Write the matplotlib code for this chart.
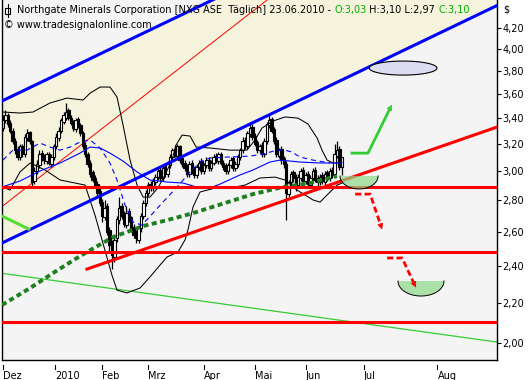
import numpy as np
import matplotlib
matplotlib.use("Agg")
import matplotlib.pyplot as plt
from matplotlib.ticker import FixedLocator, NullLocator
from matplotlib.transforms import Affine2D
from matplotlib.lines import Line2D
from matplotlib.patches import Rectangle

# Tageskerzen NXG, Index 0 = 01.12.2009 ... 140 = 23.06.2010
opens = [3.32, 3.38, 3.42, 3.36, 3.30, 3.22, 3.16, 3.10, 3.18, 3.12,
         3.24, 3.29, 3.22, 2.93, 3.00, 3.04, 3.13, 3.10, 3.07, 3.12,
         3.05, 3.10, 3.18, 3.24, 3.30, 3.37, 3.40, 3.46, 3.40, 3.36,
         3.31, 3.39, 3.34, 3.28, 3.19, 3.12, 3.06, 2.99, 2.95, 2.91,
         2.86, 2.79, 2.69, 2.76, 2.61, 2.53, 2.45, 2.56, 2.67, 2.76,
         2.71, 2.64, 2.73, 2.69, 2.63, 2.59, 2.55, 2.62, 2.70, 2.78,
         2.85, 2.91, 2.88, 2.92, 2.96, 3.01, 2.95, 3.03, 2.98, 3.04,
         3.10, 3.16, 3.11, 3.18, 3.09, 3.06, 3.03, 2.98, 3.06, 3.01,
         2.97, 3.03, 3.07, 3.00, 3.04, 3.08, 3.02, 3.06, 3.11, 3.07,
         3.12, 3.06, 3.04, 3.00, 3.04, 3.09, 3.02, 3.05, 3.10, 3.15,
         3.23, 3.18, 3.27, 3.33, 3.26, 3.21, 3.15, 3.19, 3.12, 3.22,
         3.34, 3.39, 3.31, 3.23, 3.11, 3.16, 3.09, 3.05, 2.84, 2.92,
         2.99, 2.96, 2.90, 2.95, 3.01, 2.93, 2.98, 2.90, 2.95, 3.01,
         2.95, 2.92, 2.97, 2.92, 2.99, 2.95, 3.01, 2.98, 3.11, 3.16,
         3.03]
highs = [3.42, 3.46, 3.44, 3.38, 3.32, 3.24, 3.18, 3.20, 3.20, 3.27,
         3.31, 3.30, 3.23, 3.03, 3.08, 3.15, 3.15, 3.12, 3.14, 3.14,
         3.12, 3.20, 3.28, 3.33, 3.40, 3.45, 3.52, 3.48, 3.42, 3.38,
         3.40, 3.41, 3.36, 3.30, 3.21, 3.14, 3.08, 3.01, 2.97, 2.93,
         2.88, 2.81, 2.80, 2.78, 2.63, 2.55, 2.58, 2.70, 2.82, 2.78,
         2.73, 2.76, 2.75, 2.70, 2.65, 2.61, 2.64, 2.72, 2.80, 2.87,
         2.92, 2.93, 2.95, 2.98, 3.02, 3.03, 3.04, 3.05, 3.07, 3.12,
         3.17, 3.19, 3.20, 3.19, 3.11, 3.08, 3.05, 3.07, 3.08, 3.03,
         3.05, 3.08, 3.09, 3.06, 3.10, 3.10, 3.08, 3.12, 3.13, 3.14,
         3.14, 3.08, 3.06, 3.06, 3.10, 3.11, 3.07, 3.12, 3.17, 3.25,
         3.25, 3.30, 3.37, 3.35, 3.28, 3.23, 3.20, 3.21, 3.24, 3.37,
         3.42, 3.41, 3.33, 3.25, 3.17, 3.18, 3.11, 3.07, 2.94, 3.00,
         3.01, 2.98, 2.98, 3.02, 3.03, 2.99, 3.00, 2.97, 3.02, 3.03,
         2.97, 2.98, 2.99, 3.00, 3.01, 3.02, 3.03, 3.20, 3.22, 3.18,
         3.10]
lows = [3.30, 3.36, 3.33, 3.28, 3.20, 3.12, 3.08, 3.08, 3.10, 3.10,
        3.22, 3.20, 2.89, 2.91, 2.98, 3.02, 3.07, 3.05, 3.05, 3.04,
        3.03, 3.08, 3.16, 3.22, 3.28, 3.35, 3.38, 3.38, 3.34, 3.30,
        3.29, 3.32, 3.26, 3.16, 3.10, 3.03, 2.96, 2.92, 2.88, 2.83,
        2.76, 2.66, 2.67, 2.58, 2.48, 2.38, 2.42, 2.54, 2.65, 2.68,
        2.63, 2.62, 2.66, 2.60, 2.56, 2.53, 2.53, 2.60, 2.68, 2.76,
        2.83, 2.86, 2.86, 2.90, 2.94, 2.93, 2.93, 2.96, 2.96, 3.02,
        3.08, 3.10, 3.09, 3.06, 3.03, 3.00, 2.96, 2.96, 2.98, 2.95,
        2.95, 3.01, 2.98, 2.98, 3.02, 3.00, 3.00, 3.04, 3.06, 3.05,
        3.04, 3.01, 2.98, 2.98, 3.02, 3.00, 3.00, 3.03, 3.08, 3.13,
        3.16, 3.16, 3.25, 3.23, 3.18, 3.13, 3.13, 3.10, 3.10, 3.20,
        3.32, 3.28, 3.20, 3.10, 3.09, 3.05, 3.02, 2.67, 2.82, 2.90,
        2.92, 2.86, 2.88, 2.93, 2.90, 2.91, 2.88, 2.88, 2.93, 2.92,
        2.89, 2.90, 2.91, 2.90, 2.93, 2.93, 2.95, 2.96, 3.09, 3.01,
        2.97]
closes = [3.38, 3.42, 3.35, 3.30, 3.22, 3.15, 3.10, 3.18, 3.12, 3.25,
          3.28, 3.22, 2.92, 3.00, 3.05, 3.12, 3.10, 3.08, 3.12, 3.06,
          3.10, 3.18, 3.25, 3.30, 3.38, 3.42, 3.45, 3.40, 3.36, 3.32,
          3.38, 3.34, 3.28, 3.18, 3.12, 3.05, 2.98, 2.94, 2.90, 2.85,
          2.78, 2.70, 2.75, 2.60, 2.52, 2.46, 2.55, 2.68, 2.75, 2.70,
          2.65, 2.72, 2.68, 2.62, 2.58, 2.56, 2.62, 2.70, 2.78, 2.85,
          2.90, 2.88, 2.93, 2.96, 3.00, 2.95, 3.02, 2.98, 3.05, 3.10,
          3.15, 3.12, 3.18, 3.08, 3.05, 3.02, 2.98, 3.05, 3.00, 2.97,
          3.03, 3.06, 3.00, 3.04, 3.08, 3.02, 3.06, 3.10, 3.08, 3.12,
          3.06, 3.03, 3.00, 3.04, 3.08, 3.02, 3.05, 3.10, 3.15, 3.22,
          3.18, 3.28, 3.32, 3.25, 3.20, 3.15, 3.18, 3.12, 3.22, 3.35,
          3.38, 3.30, 3.22, 3.12, 3.15, 3.08, 3.05, 2.85, 2.92, 2.98,
          2.95, 2.90, 2.96, 3.00, 2.93, 2.97, 2.91, 2.95, 3.00, 2.94,
          2.92, 2.96, 2.93, 2.98, 2.95, 3.00, 2.97, 3.12, 3.15, 3.03,
          3.10]

# Bollinger-Baender (schwarz)
bbu_x = [0, 7, 12.4, 19.4, 26.4, 33.1, 36, 40.1, 44.2, 47.1, 49.6, 52.5, 55.4,
         57.9, 60.7, 64, 66.9, 69.8, 71.5, 74, 77.3, 79.8, 85.5, 93.8, 100.8,
         104.1, 107, 111.6, 116.5, 121.9, 126, 129.8, 131.8, 133.9, 136.4, 139.7]
bbu_y = [3.447, 3.439, 3.447, 3.521, 3.562, 3.546, 3.604, 3.656, 3.656, 3.571,
         3.343, 3.078, 2.902, 2.821, 2.821, 2.882, 2.972, 3.078, 3.189, 3.265,
         3.257, 3.174, 3.167, 3.151, 3.151, 3.227, 3.319, 3.375, 3.407, 3.398,
         3.351, 3.242, 3.151, 3.078, 3.057, 3.057]
bbl_x = [0, 2.9, 7, 11.2, 17.4, 23.6, 29.8, 33.9, 38, 42.1, 45, 47.1, 51.2,
         56.6, 60.7, 64.9, 67.8, 72.3, 75.2, 76.4, 78.5, 81.4, 87.6, 93.8, 100,
         106.2, 112.4, 116.5, 121.5, 128.1, 131, 133.9, 138, 140.1]
bbl_y = [2.889, 2.868, 2.993, 3.057, 3.007, 2.937, 2.916, 2.902, 2.704, 2.490,
         2.348, 2.266, 2.251, 2.277, 2.337, 2.404, 2.450, 2.479, 2.550, 2.610,
         2.756, 2.855, 2.882, 2.882, 2.902, 2.951, 2.957, 2.937, 2.868, 2.802,
         2.788, 2.835, 2.902, 2.916]

# gleitende Durchschnitte
ma_x = [-0.4, 7, 15.3, 23.6, 31.8, 36, 40.1, 44.2, 49.6, 55.4, 60.7, 67.8,
        74.4, 81.4, 85.5, 89.7, 97.9, 103.3, 110.3, 114.5, 122.7, 131, 140.1]
ma_y = [2.889, 2.930, 3.000, 3.057, 3.129, 3.174, 3.167, 3.129, 3.071, 2.993,
        2.937, 2.923, 2.916, 2.882, 2.882, 2.909, 2.972, 3.007, 3.064, 3.078,
        3.064, 3.057, 3.057]
ma2_x = [0, 4.1, 9.9, 15.3, 19.4, 23.6, 27.7, 31.8, 36, 40.1, 44.2, 47.1, 50.4,
         53.7, 57.4, 62, 66.1, 71.9, 77.3, 81.4, 85.5, 92.6, 102.1, 107.4,
         113.2, 116.5, 119.4, 122.7, 128.1, 135.1]
ma2_y = [3.078, 3.151, 3.151, 3.204, 3.174, 3.151, 3.174, 3.212, 3.227, 3.167,
         3.057, 2.937, 2.769, 2.660, 2.641, 2.717, 2.788, 2.889, 2.993, 3.064,
         3.093, 3.100, 3.107, 3.122, 3.151, 3.151, 3.137, 3.100, 3.078, 3.057]
ma200_x = [-0.4, 11.2, 20.7, 31.8, 45.5, 57.9, 67.8, 77.3, 91.7, 103.3, 115.7,
           126.9, 138]
ma200_y = [2.188, 2.277, 2.359, 2.455, 2.568, 2.635, 2.672, 2.711, 2.782,
           2.841, 2.889, 2.916, 2.964]

# Trendlinien (Index, Kurs)
chan_x = [-1.24, 204.1]
chan_upper = [3.53, 6.19]
chan_lower = [2.526, 4.43]
fan_x = [-1.24, 109.1]
fan_y = [2.749, 4.488]
support_x = [34.7, 204.1]
support_y = [2.381, 3.327]
levels = [2.89, 2.48, 2.10]
long_x = [-1.24, 204.1]
long_y = [2.359, 2.005]
short_x = [-1.24, 10.7]
short_y = [2.704, 2.616]

# Szenarien
up_x = [144.2, 150.8, 161.2]
up_y = [3.129, 3.129, 3.529]
dn1_x = [145.5, 151.7, 157.0]
dn1_y = [2.841, 2.841, 2.598]
dn2_x = [158.7, 164.9, 171.1]
dn2_y = [2.444, 2.444, 2.266]

month_pos = [0, 21.5, 41, 60, 83, 104, 125, 149, 179.5]
month_lab = ['Dez', '2010', 'Feb', 'Mrz', 'Apr', 'Mai', 'Jun', 'Jul', 'Aug']
price_ticks = [2.0, 2.2, 2.4, 2.6, 2.8, 3.0, 3.2, 3.4, 3.6, 3.8, 4.0, 4.2]

FS = 7.0
plt.rcParams['font.family'] = 'DejaVu Sans'

fig = plt.figure(figsize=(5.31, 3.80), dpi=100)
fig.patch.set_facecolor('white')
ax = fig.add_axes([2 / 531, 20 / 380, 495 / 531, 360 / 380])
ax.set_facecolor('#F4F4F4')
ax.set_yscale('log')
ax.set_ylim(1.922, 4.488)
ax.set_xlim(-0.41, 204.1)

# Kanal
ax.fill_between(chan_x, chan_lower, chan_upper, color='#F5F3DC', lw=0, zorder=0)
ax.plot(chan_x, chan_upper, color='#0000FF', lw=2.2, zorder=5)
ax.plot(chan_x, chan_lower, color='#0000FF', lw=2.2, zorder=5)
ax.plot(fan_x, fan_y, color='#FF0000', lw=0.7, zorder=1)
ax.plot(long_x, long_y, color='#33CC33', lw=0.9, zorder=1)
ax.plot(short_x, short_y, color='#55DD33', lw=2.2, zorder=5)

# Kerzen
o = np.array(opens)
h = np.array(highs)
l = np.array(lows)
c = np.array(closes)
x = np.arange(len(c))
ax.vlines(x, l, h, color='black', lw=0.9, zorder=2)
body_col = np.where(c >= o, 'white', 'black')
ax.bar(x, np.maximum(np.abs(c - o), 0.004), bottom=np.minimum(o, c), width=1.0,
       color=body_col, edgecolor='black', linewidth=0.8, zorder=2)

# Indikatoren
ax.plot(bbu_x, bbu_y, color='black', lw=0.75, zorder=3)
ax.plot(bbl_x, bbl_y, color='black', lw=0.75, zorder=3)
ax.plot(ma_x, ma_y, color='#0000FF', lw=0.8, zorder=3)
ax.plot(ma2_x, ma2_y, color='#0000FF', lw=0.8, ls=(0, (4.5, 3.5)), zorder=3)
ax.plot(ma200_x, ma200_y, color='#1E7F1E', lw=2.8, ls=(0, (1.3, 0.9)),
        dash_capstyle='butt', zorder=4)

# Unterstuetzungen
for lv in levels:
    ax.axhline(lv, color='#FF0000', lw=2.2, zorder=5)
ax.plot(support_x, support_y, color='#FF0000', lw=2.2, zorder=5)

# Zielzonen
t = np.linspace(0, 2 * np.pi, 120)
ax.fill(165.3 + 14.0 * np.cos(t), 3.823 * np.exp(0.0165 * np.sin(t)),
        facecolor='#DCDCF2', edgecolor='black', lw=0.8, zorder=6)
tb = np.linspace(np.pi, 2 * np.pi, 60)
for cx, cy, a, b in [(147.1, 2.965, 7.85, 0.0306), (172.7, 2.315, 9.5, 0.0353)]:
    bx = cx + a * np.cos(tb)
    by = cy * np.exp(b * np.sin(tb))
    ax.fill(bx, by, facecolor='#8ED88A', alpha=0.7, lw=0, zorder=6)
    ax.plot(bx, by, color='black', lw=0.7, zorder=6)


def arrow_path(xs, ys, col, ls):
    ax.plot(xs[:-1] + [xs[-2] + 0.85 * (xs[-1] - xs[-2])],
            ys[:-1] + [ys[-2] * (ys[-1] / ys[-2]) ** 0.85],
            color=col, lw=2, ls=ls, zorder=7, dash_capstyle='butt')
    ax.annotate('', xy=(xs[-1], ys[-1]),
                xytext=(xs[-2] + 0.7 * (xs[-1] - xs[-2]), ys[-2] * (ys[-1] / ys[-2]) ** 0.7),
                arrowprops=dict(arrowstyle='-|>', color=col, lw=0.5,
                                mutation_scale=9), zorder=7)


arrow_path(up_x, up_y, '#33CC33', '-')
arrow_path(dn1_x, dn1_y, '#FF0000', (0, (2.2, 1.2)))
arrow_path(dn2_x, dn2_y, '#FF0000', (0, (2.2, 1.2)))

# Achsen
for side in ['left', 'right', 'bottom']:
    ax.spines[side].set_color('black')
    ax.spines[side].set_linewidth(1)
ax.spines['top'].set_visible(False)
ax.yaxis.tick_right()
ax.yaxis.set_major_locator(FixedLocator(price_ticks))
ax.yaxis.set_minor_locator(NullLocator())
ax.set_yticklabels([f'{v:.2f}'.replace('.', ',') for v in price_ticks])
ax.tick_params(axis='y', which='major', direction='out', length=3, width=0.8,
               pad=1, labelsize=FS, colors='black')
ax.set_xticks(month_pos)
ax.set_xticklabels(month_lab)
ax.xaxis.set_minor_locator(NullLocator())
ax.tick_params(axis='x', length=0, pad=8, labelsize=FS)
for lbl in ax.get_xticklabels():
    lbl.set_ha('left')
for mp in month_pos:
    ax.plot([mp, mp], [-0.014, -0.025], color='black', lw=0.8,
            transform=ax.get_xaxis_transform(), clip_on=False)

fig.text(503 / 531, 1 - 10 / 380, '$', fontsize=FS, va='center', ha='left')

# Kopfzeile mit Kerzensymbol
fig.add_artist(Line2D([7.5 / 531, 7.5 / 531], [1 - 4 / 380, 1 - 17 / 380],
                      color='black', lw=0.8, transform=fig.transFigure))
fig.add_artist(Rectangle((5 / 531, 1 - 14 / 380), 5 / 531, 6 / 380,
                         facecolor='white', edgecolor='black', lw=0.8,
                         transform=fig.transFigure))
fig.canvas.draw()
r = fig.canvas.get_renderer()
segs = [('Northgate Minerals Corporation [NXG ASE  T\u00e4glich] 23.06.2010 - ', 'black'),
        ('O:3,03', '#00B000'), (' H:3,10 L:2,97 ', 'black'), ('C:3,10', '#00B000')]
tx = fig.text(17 / 531, 1 - 10 / 380, segs[0][0], color=segs[0][1], fontsize=FS,
              va='center', ha='left')
for s, col in segs[1:]:
    ex = tx.get_window_extent(renderer=r)
    tx = fig.text(17 / 531, 1 - 10 / 380, s, color=col, fontsize=FS, va='center', ha='left',
                  transform=tx.get_transform() + Affine2D().translate(ex.width, 0))
fig.text(4 / 531, 1 - 25 / 380, '\u00a9 www.tradesignalonline.com', fontsize=FS,
         va='center', ha='left')

fig.savefig('out.png', dpi=100)
